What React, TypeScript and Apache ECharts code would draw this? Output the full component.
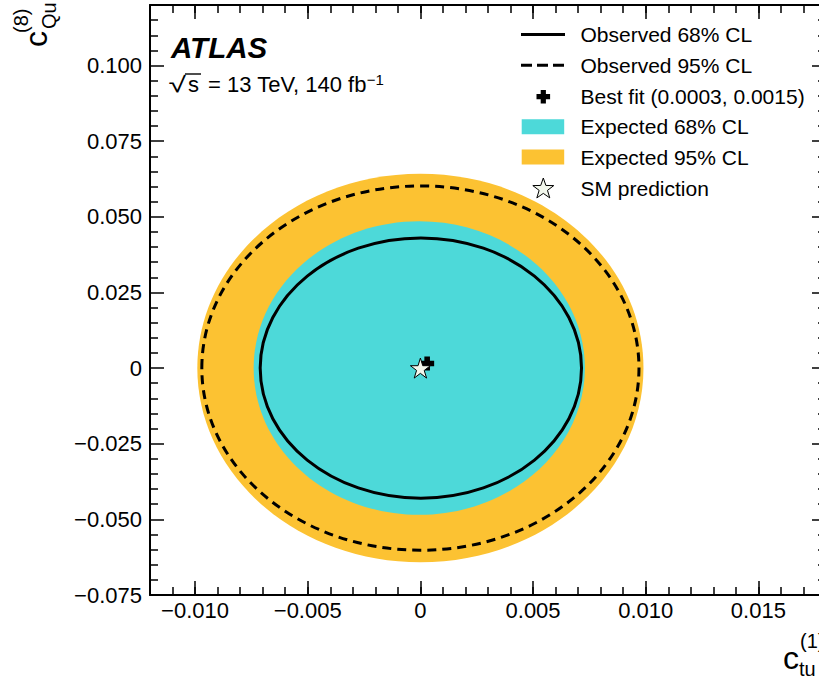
import React, { useEffect, useRef } from "react";
import * as echarts from "echarts";

// ---- data ----
// ellipse contours: [centre x, centre y, half-width x, half-height y]
const expected95 = [0, 0, 0.0099, 0.0642];
const expected68 = [-0.00005, 0, 0.00735, 0.0485];
const observed95 = [0, 0, 0.0097, 0.0602];
const observed68 = [0.00002, 0, 0.00713, 0.043];
const bestFit = [0.0003, 0.0015];
const smPrediction = [0, 0];

const xMajorTicks = [-0.01, -0.005, 0, 0.005, 0.01, 0.015];
const xRange = [-0.012, 0.018];
const yRange = [-0.075, 0.12];

const legendLabels = [
  "Observed 68% CL",
  "Observed 95% CL",
  "Best fit (0.0003, 0.0015)",
  "Expected 68% CL",
  "Expected 95% CL",
  "SM prediction",
];

const CYAN = "#4DD9D9";
const ORANGE = "#FCC232";
const FONT = "'Liberation Sans', Arial, Helvetica, sans-serif";

const fmt = (v: number) => {
  if (Math.abs(v) < 1e-12) return "0";
  return (v < 0 ? "\u2212" : "") + Math.abs(v).toFixed(3);
};

const PLUS = "path://M3,0H7V3H10V7H7V10H3V7H0V3H3Z";
const STAR =
  "path://M50,0L61.2,34.5L97.6,34.5L68.2,55.9L79.4,90.5L50,69.1L20.6,90.5L31.8,55.9L2.4,34.5L38.8,34.5Z";

function ellipseSeries(name: string, params: number[], style: any, z: number) {
  return {
    type: "custom",
    name,
    xAxisIndex: 0,
    yAxisIndex: 0,
    z,
    silent: true,
    data: [params],
    renderItem: (_p: any, api: any) => {
      const c = api.coord([api.value(0), api.value(1)]);
      const s = api.size([api.value(2), api.value(3)]);
      return {
        type: "ellipse",
        shape: { cx: c[0], cy: c[1], rx: s[0], ry: s[1] },
        style,
      };
    },
  };
}

function starPoints(cx: number, cy: number, R: number) {
  const pts: number[][] = [];
  for (let i = 0; i < 10; i++) {
    const r = i % 2 === 0 ? R : R * 0.4;
    const a = -Math.PI / 2 + (i * Math.PI) / 5;
    pts.push([cx + r * Math.cos(a), cy + r * Math.sin(a)]);
  }
  return pts;
}

const txt = (x: number, y: number, text: string, font: string, extra: any = {}) => ({
  type: "text",
  x,
  y,
  ...extra,
  style: {
    text,
    font,
    fill: "#000",
    textVerticalAlign: "middle",
    verticalAlign: "middle",
  },
});

export default function App() {
  const ref = useRef<HTMLDivElement>(null);
  useEffect(() => {
    const chart = echarts.init(ref.current!, null, { renderer: "svg" });
    const axisLine = { show: true, onZero: false, lineStyle: { color: "#000", width: 2 } };
    const tickStyle = { color: "#000", width: 1.5 };
    const baseX = {
      type: "value",
      min: xRange[0],
      max: xRange[1],
      splitLine: { show: false },
    };
    const baseY = {
      type: "value",
      min: yRange[0],
      max: yRange[1],
      interval: 0.025,
      splitLine: { show: false },
      axisLine,
      axisTick: { show: true, inside: true, length: 14, lineStyle: tickStyle },
      minorTick: { show: true, splitNumber: 5, length: 8, lineStyle: tickStyle },
    };
    const legendY = [34.5, 65.2, 96.7, 126.7, 157, 188];
    const graphic: any[] = [
      txt(171, 47, "ATLAS", `italic bold 29.5px ${FONT}`),
      txt(168.5, 84.5, "\u221A", `22px ${FONT}`, { scaleX: 1.45 }),
      {
        type: "line",
        shape: { x1: 185, y1: 74, x2: 201, y2: 74 },
        style: { stroke: "#000", lineWidth: 1.4 },
      },
      txt(188, 84.5, "s", `22px ${FONT}`),
      {
        type: "text",
        x: 208,
        y: 84.5,
        style: {
          text: "{a|= 13 TeV, 140 fb}{s|\u22121}",
          rich: {
            a: { font: `22px ${FONT}`, fill: "#000", lineHeight: 26 },
            s: { font: `15px ${FONT}`, fill: "#000", lineHeight: 15, verticalAlign: "top" },
          },
          textVerticalAlign: "middle",
          verticalAlign: "middle",
        },
      },
      // x axis title
      txt(783, 658, "c", `32px ${FONT}`),
      txt(799, 669, "tu", `20px ${FONT}`),
      txt(800, 641, "(1)", `20px ${FONT}`),
      // y axis title (rotated, reading upwards)
      {
        type: "group",
        x: 0,
        y: 0,
        rotation: Math.PI / 2,
        children: [
          txt(-47, 47 - 11, "c", `32px ${FONT}`),
          txt(-29, 56 - 7, "Qu", `20px ${FONT}`),
          txt(-33, 28 - 7, "(8)", `20px ${FONT}`),
        ],
      },
      // legend icons
      {
        type: "line",
        shape: { x1: 521, y1: legendY[0], x2: 565, y2: legendY[0] },
        style: { stroke: "#000", lineWidth: 3 },
      },
      {
        type: "line",
        shape: { x1: 521, y1: legendY[1], x2: 565, y2: legendY[1] },
        style: { stroke: "#000", lineWidth: 3, lineDash: [11, 5] },
      },
      {
        type: "polygon",
        shape: {
          points: [
            [-2.6, -6.8], [2.6, -6.8], [2.6, -2.6], [6.8, -2.6], [6.8, 2.6], [2.6, 2.6],
            [2.6, 6.8], [-2.6, 6.8], [-2.6, 2.6], [-6.8, 2.6], [-6.8, -2.6], [-2.6, -2.6],
          ].map((p) => [p[0] + 543.3, p[1] + legendY[2]]),
        },
        style: { fill: "#000" },
      },
      {
        type: "rect",
        shape: { x: 521.7, y: legendY[3] - 7.5, width: 42.5, height: 15 },
        style: { fill: CYAN },
      },
      {
        type: "rect",
        shape: { x: 521.7, y: legendY[4] - 7.5, width: 42.5, height: 15 },
        style: { fill: ORANGE },
      },
      {
        type: "polygon",
        shape: { points: starPoints(543.3, legendY[5] + 1, 11) },
        style: { fill: "#F2F7EC", stroke: "#000", lineWidth: 1 },
      },
      ...legendLabels.map((t, i) => txt(580.5, legendY[i], t, `21px ${FONT}`)),
    ];

    chart.setOption({
      animation: false,
      backgroundColor: "#fff",
      grid: { left: 150, top: 5, width: 676, height: 590, containLabel: false },
      xAxis: [
        {
          ...baseX,
          position: "bottom",
          interval: 0.001,
          axisLine,
          axisTick: { show: true, inside: true, length: 8, lineStyle: tickStyle },
          axisLabel: { show: false },
        },
        {
          ...baseX,
          position: "bottom",
          axisLine: { show: false, onZero: false },
          axisTick: { show: true, inside: true, length: 14, customValues: xMajorTicks, lineStyle: tickStyle },
          axisLabel: {
            show: true,
            customValues: xMajorTicks,
            formatter: fmt,
            margin: 4,
            color: "#000",
            fontSize: 22,
            fontFamily: FONT,
          },
        },
        {
          ...baseX,
          position: "top",
          interval: 0.001,
          axisLine,
          axisTick: { show: true, inside: true, length: 8, lineStyle: tickStyle },
          axisLabel: { show: false },
        },
        {
          ...baseX,
          position: "top",
          axisLine: { show: false, onZero: false },
          axisTick: { show: true, inside: true, length: 14, customValues: xMajorTicks, lineStyle: tickStyle },
          axisLabel: { show: false },
        },
      ],
      yAxis: [
        {
          ...baseY,
          position: "left",
          axisLabel: {
            show: true,
            formatter: fmt,
            showMaxLabel: false,
            margin: 8,
            color: "#000",
            fontSize: 22,
            fontFamily: FONT,
            padding: [4, 0, 0, 0],
          },
        },
        {
          ...baseY,
          position: "right",
          axisLabel: { show: false },
        },
      ],
      series: [
        ellipseSeries("Expected 95% CL", expected95, { fill: ORANGE }, 2),
        ellipseSeries("Expected 68% CL", expected68, { fill: CYAN }, 3),
        ellipseSeries(
          "Observed 95% CL",
          observed95,
          { fill: "none", stroke: "#000", lineWidth: 3, lineDash: [9, 6] },
          4
        ),
        ellipseSeries(
          "Observed 68% CL",
          observed68,
          { fill: "none", stroke: "#000", lineWidth: 3 },
          4
        ),
        {
          type: "scatter",
          name: "Best fit",
          z: 5,
          silent: true,
          symbol: PLUS,
          symbolSize: 14,
          itemStyle: { color: "#000", opacity: 1 },
          data: [bestFit],
        },
        {
          type: "scatter",
          name: "SM prediction",
          z: 6,
          silent: true,
          symbol: STAR,
          symbolSize: 20,
          itemStyle: { color: "#F2F7EC", borderColor: "#000", borderWidth: 1, opacity: 1 },
          data: [smPrediction],
        },
      ],
      graphic,
    });
    return () => chart.dispose();
  }, []);

  return (
    <div
      style={{
        position: "fixed",
        left: 0,
        top: 0,
        width: 819,
        height: 678,
        overflow: "hidden",
        background: "#fff",
      }}
    >
      <div ref={ref} style={{ width: 860, height: 678 }} />
    </div>
  );
}
